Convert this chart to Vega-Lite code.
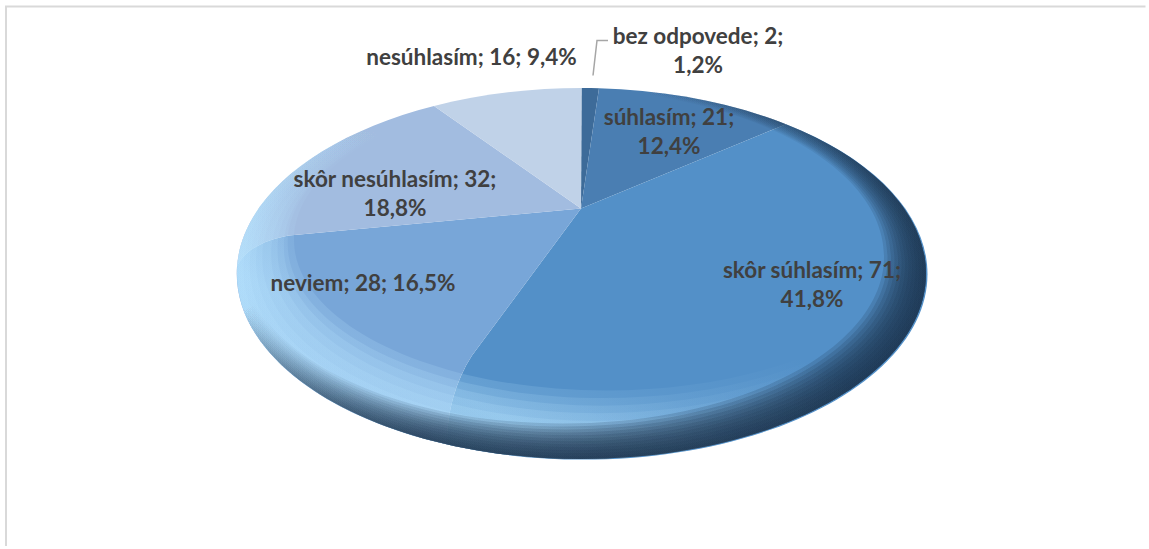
{
"$schema":"https://vega.github.io/schema/vega-lite/v6.json",
"width":1149,"height":549,"padding":0,
"autosize":{"type":"fit","contains":"padding"},
"background":"white",
"config":{"view":{"stroke":null}},
"resolve":{"scale":{"shape":"independent"}},
"data":{"values":[
{"kategoria":"bez odpovede","pocet":2,"podiel":1.2,"popis":"bez odpovede; 2;\n1,2%"},
{"kategoria":"súhlasím","pocet":21,"podiel":12.4,"popis":"súhlasím; 21;\n12,4%"},
{"kategoria":"skôr súhlasím","pocet":71,"podiel":41.8,"popis":"skôr súhlasím; 71;\n41,8%"},
{"kategoria":"neviem","pocet":28,"podiel":16.5,"popis":"neviem; 28; 16,5%"},
{"kategoria":"skôr nesúhlasím","pocet":32,"podiel":18.8,"popis":"skôr nesúhlasím; 32;\n18,8%"},
{"kategoria":"nesúhlasím","pocet":16,"podiel":9.4,"popis":"nesúhlasím; 16; 9,4%"}
]},
"layer":[
{"mark":{"type":"point","filled":true,"size":4,"opacity":1,"strokeWidth":0},
 "encoding":{
  "shape":{"field":"kategoria","type":"nominal","legend":null,"scale":{
   "domain":["bez odpovede","súhlasím","skôr súhlasím","neviem","skôr nesúhlasím","nesúhlasím"],
   "range":[
    "M7.5,-64.5 L8,-185 A344.5,185.5 0 0 1 25.5,-184.8 Z",
    "M7.5,-64.5 L25.5,-184.8 A344.5,185.5 0 0 1 212.5,-148.8 Z",
    "M7.5,-64.5 L212.5,-148.8 A344.5,185.5 0 0 1 -126.5,171.5 C-127,140 -118,108 -101.5,82.5 Z",
    "M7.5,-64.5 L-101.5,82.5 C-118,108 -127,140 -126.5,171.5 A344.5,185.5 0 0 1 -336.5,-6.5 C-330,-22 -310,-33 -284.5,-37.5 Z",
    "M7.5,-64.5 L-284.5,-37.5 C-310,-33 -330,-22 -336.5,-6.5 A344.5,185.5 0 0 1 -139.5,-167 Z",
    "M7.5,-64.5 L-139.5,-167 A344.5,185.5 0 0 1 8,-185 Z"
   ]}},
  "color":{"field":"kategoria","type":"nominal","legend":null,"scale":{
   "domain":["bez odpovede","súhlasím","skôr súhlasím","neviem","skôr nesúhlasím","nesúhlasím"],
   "range":["#3d6b99","#4a7eb2","#5390c8","#78a6d8","#a2bce0","#c0d2e8"]}}
 }},
{"data":{"values":[{"pas":"a"},{"pas":"b"},{"pas":"c"},{"pas":"d"},{"pas":"e"},{"pas":"f"},{"pas":"g"},{"pas":"h"},{"pas":"i"}]},
 "mark":{"type":"point","size":4,"opacity":1,"strokeWidth":0,
  "fill":{"gradient":"linear","x1":1,"y1":0,"x2":0,"y2":1,
   "stops":[{"offset":0,"color":"rgba(184,228,255,0)"},{"offset":0.45,"color":"rgba(184,228,255,0)"},{"offset":0.6,"color":"rgba(184,228,255,0.08)"},{"offset":0.75,"color":"rgba(184,228,255,0.2)"},{"offset":1,"color":"rgba(184,228,255,0.13)"}]}},
 "encoding":{"shape":{"field":"pas","type":"nominal","legend":null,"scale":{"domain":["a","b","c","d","e","f","g","h","i"],"range":[
  "M8,-185 A344.5,185.5 0 0 1 8,186 L33,117.5 A312.5,150.5 0 0 0 33,-183.5 Z M8,186 A344.5,185.5 0 0 1 8,-185 L33,-183.5 A312.5,150.5 0 0 0 33,117.5 Z",
  "M8,-185 A344.5,185.5 0 0 1 8,186 L30.22,125.11 A316.06,154.39 0 0 0 30.22,-183.67 Z M8,186 A344.5,185.5 0 0 1 8,-185 L30.22,-183.67 A316.06,154.39 0 0 0 30.22,125.11 Z",
  "M8,-185 A344.5,185.5 0 0 1 8,186 L27.44,132.72 A319.61,158.28 0 0 0 27.44,-183.83 Z M8,186 A344.5,185.5 0 0 1 8,-185 L27.44,-183.83 A319.61,158.28 0 0 0 27.44,132.72 Z",
  "M8,-185 A344.5,185.5 0 0 1 8,186 L24.67,140.33 A323.17,162.17 0 0 0 24.67,-184 Z M8,186 A344.5,185.5 0 0 1 8,-185 L24.67,-184 A323.17,162.17 0 0 0 24.67,140.33 Z",
  "M8,-185 A344.5,185.5 0 0 1 8,186 L21.89,147.94 A326.72,166.06 0 0 0 21.89,-184.17 Z M8,186 A344.5,185.5 0 0 1 8,-185 L21.89,-184.17 A326.72,166.06 0 0 0 21.89,147.94 Z",
  "M8,-185 A344.5,185.5 0 0 1 8,186 L19.11,155.56 A330.28,169.94 0 0 0 19.11,-184.33 Z M8,186 A344.5,185.5 0 0 1 8,-185 L19.11,-184.33 A330.28,169.94 0 0 0 19.11,155.56 Z",
  "M8,-185 A344.5,185.5 0 0 1 8,186 L16.33,163.17 A333.83,173.83 0 0 0 16.33,-184.5 Z M8,186 A344.5,185.5 0 0 1 8,-185 L16.33,-184.5 A333.83,173.83 0 0 0 16.33,163.17 Z",
  "M8,-185 A344.5,185.5 0 0 1 8,186 L13.56,170.78 A337.39,177.72 0 0 0 13.56,-184.67 Z M8,186 A344.5,185.5 0 0 1 8,-185 L13.56,-184.67 A337.39,177.72 0 0 0 13.56,170.78 Z",
  "M8,-185 A344.5,185.5 0 0 1 8,186 L10.78,178.39 A340.94,181.61 0 0 0 10.78,-184.83 Z M8,186 A344.5,185.5 0 0 1 8,-185 L10.78,-184.83 A340.94,181.61 0 0 0 10.78,178.39 Z"
 ]}}}},
{"data":{"values":[{"pas":"a"},{"pas":"b"},{"pas":"c"},{"pas":"d"},{"pas":"e"},{"pas":"f"},{"pas":"g"},{"pas":"h"},{"pas":"i"},{"pas":"j"},{"pas":"k"},{"pas":"l"}]},
 "mark":{"type":"point","size":4,"opacity":1,"strokeWidth":0,
  "fill":{"gradient":"linear","x1":0,"y1":0,"x2":1,"y2":1,
   "stops":[{"offset":0,"color":"rgba(28,53,80,0)"},{"offset":0.3,"color":"rgba(28,53,80,0)"},{"offset":0.45,"color":"rgba(28,53,80,0.07)"},{"offset":0.6,"color":"rgba(28,53,80,0.15)"},{"offset":0.75,"color":"rgba(28,53,80,0.19)"},{"offset":1,"color":"rgba(28,53,80,0.19)"}]}},
 "encoding":{"shape":{"field":"pas","type":"nominal","legend":null,"scale":{"domain":["a","b","c","d","e","f","g","h","i","j","k","l"],"range":[
  "M8,-185 A344.5,185.5 0 0 1 8,186 L-10.5,150.5 A321,167 0 0 0 -10.5,-183.5 Z M8,186 A344.5,185.5 0 0 1 8,-185 L-10.5,-183.5 A321,167 0 0 0 -10.5,150.5 Z",
  "M8,-185 A344.5,185.5 0 0 1 8,186 L-8.96,153.46 A322.96,168.54 0 0 0 -8.96,-183.62 Z M8,186 A344.5,185.5 0 0 1 8,-185 L-8.96,-183.62 A322.96,168.54 0 0 0 -8.96,153.46 Z",
  "M8,-185 A344.5,185.5 0 0 1 8,186 L-7.42,156.41 A324.92,170.08 0 0 0 -7.42,-183.75 Z M8,186 A344.5,185.5 0 0 1 8,-185 L-7.42,-183.75 A324.92,170.08 0 0 0 -7.42,156.41 Z",
  "M8,-185 A344.5,185.5 0 0 1 8,186 L-5.88,159.38 A326.88,171.63 0 0 0 -5.88,-183.88 Z M8,186 A344.5,185.5 0 0 1 8,-185 L-5.88,-183.88 A326.88,171.63 0 0 0 -5.88,159.38 Z",
  "M8,-185 A344.5,185.5 0 0 1 8,186 L-4.33,162.34 A328.83,173.17 0 0 0 -4.33,-184 Z M8,186 A344.5,185.5 0 0 1 8,-185 L-4.33,-184 A328.83,173.17 0 0 0 -4.33,162.34 Z",
  "M8,-185 A344.5,185.5 0 0 1 8,186 L-2.79,165.29 A330.79,174.71 0 0 0 -2.79,-184.13 Z M8,186 A344.5,185.5 0 0 1 8,-185 L-2.79,-184.13 A330.79,174.71 0 0 0 -2.79,165.29 Z",
  "M8,-185 A344.5,185.5 0 0 1 8,186 L-1.25,168.25 A332.75,176.25 0 0 0 -1.25,-184.25 Z M8,186 A344.5,185.5 0 0 1 8,-185 L-1.25,-184.25 A332.75,176.25 0 0 0 -1.25,168.25 Z",
  "M8,-185 A344.5,185.5 0 0 1 8,186 L0.29,171.21 A334.71,177.79 0 0 0 0.29,-184.37 Z M8,186 A344.5,185.5 0 0 1 8,-185 L0.29,-184.37 A334.71,177.79 0 0 0 0.29,171.21 Z",
  "M8,-185 A344.5,185.5 0 0 1 8,186 L1.83,174.16 A336.67,179.33 0 0 0 1.83,-184.5 Z M8,186 A344.5,185.5 0 0 1 8,-185 L1.83,-184.5 A336.67,179.33 0 0 0 1.83,174.16 Z",
  "M8,-185 A344.5,185.5 0 0 1 8,186 L3.38,177.13 A338.63,180.88 0 0 0 3.38,-184.63 Z M8,186 A344.5,185.5 0 0 1 8,-185 L3.38,-184.63 A338.63,180.88 0 0 0 3.38,177.13 Z",
  "M8,-185 A344.5,185.5 0 0 1 8,186 L4.92,180.09 A340.58,182.42 0 0 0 4.92,-184.75 Z M8,186 A344.5,185.5 0 0 1 8,-185 L4.92,-184.75 A340.58,182.42 0 0 0 4.92,180.09 Z",
  "M8,-185 A344.5,185.5 0 0 1 8,186 L6.46,183.04 A342.54,183.96 0 0 0 6.46,-184.88 Z M8,186 A344.5,185.5 0 0 1 8,-185 L6.46,-184.88 A342.54,183.96 0 0 0 6.46,183.04 Z"
 ]}}}},
{"data":{"values":[{"prvok":"ramik"}]},
 "mark":{"type":"point","size":4,"opacity":1,"fill":"transparent","stroke":"#d9d9d9","strokeWidth":2,
  "shape":"M-567.5,273 L-567.5,-266.5 L572,-266.5"},
 "encoding":{}},
{"transform":[{"filter":"datum.pocet == 2"}],
 "mark":{"type":"point","size":4,"opacity":1,"fill":"transparent","stroke":"#a6a6a6","strokeWidth":1.5,
  "shape":"M19.5,-197.5 L23.5,-232.5 L34.5,-232.5"},
 "encoding":{}},
{"mark":{"type":"text","font":"Lato","fontWeight":"bold","fontSize":22.5,"color":"#404040","align":"center","baseline":"middle","lineBreak":"\n","lineHeight":29},
 "encoding":{
  "text":{"field":"popis","type":"nominal"},
  "x":{"field":"pocet","type":"quantitative","axis":null,"scale":{"domain":[2,16,21,28,32,71],"range":[698,471.5,669,363,395,812],"zero":false,"nice":false}},
  "y":{"field":"pocet","type":"quantitative","axis":null,"scale":{"domain":[2,16,21,28,32,71],"range":[37,58,118,284,180,271],"zero":false,"nice":false}}
 }}
]
}
